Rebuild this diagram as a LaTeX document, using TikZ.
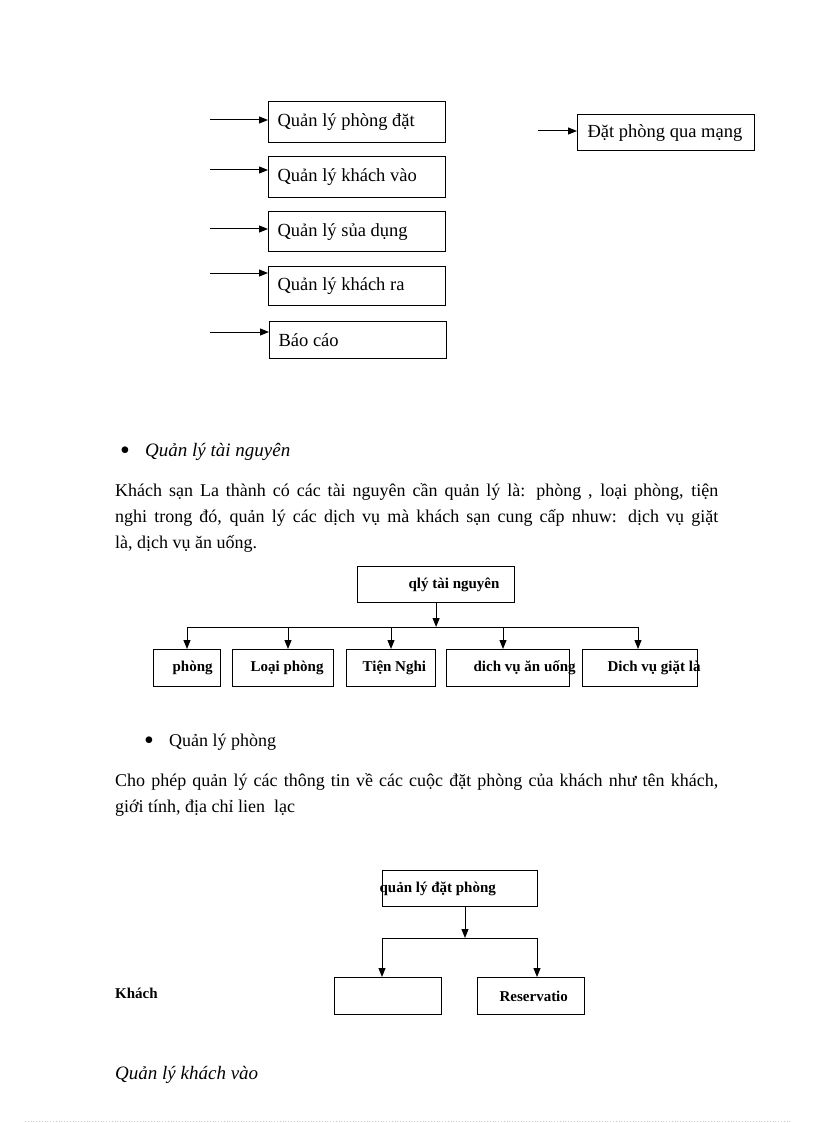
\documentclass[tikz,border=0pt]{standalone}
\usepackage{fontspec}
\setmainfont{Liberation Serif}
\usetikzlibrary{positioning}
\usetikzlibrary{arrows.meta}
\newcommand{\padtext}[3]{\makebox[#1pt][l]{\hspace*{#2pt}#3}}
\tikzset{
    box/.style = {rectangle, draw=black, line width=1.2pt, inner sep=0pt, anchor=north west, font=\fontsize{18.5}{20}\selectfont},
    boxb/.style = {rectangle, draw=black, line width=1.2pt, inner sep=0pt, anchor=north west, font=\fontsize{15}{17}\selectfont\bfseries},
    edgen/.style = {-{Triangle[length=9pt,width=7pt]}, line width=1pt},
    edgel/.style = {line width=1pt},
    txt/.style = {anchor=base west, inner sep=0pt, font=\fontsize{18}{20}\selectfont},
    dot/.style = {anchor=center, inner sep=0pt, font=\fontsize{28}{28}\selectfont},
    txti/.style = {txt, font=\fontsize{19}{21}\selectfont\itshape},
    txtb/.style = {txt, font=\fontsize{15}{17}\selectfont\bfseries}
}
\begin{document}
\begin{tikzpicture}[x=1pt,y=-1pt]
\useasboundingbox (0,0) rectangle (816,1123);
%
\node[box, minimum height=41] (pd) at (268,101) {\padtext{177}{9}{Quản lý phòng đặt}};
\node[box, minimum height=41] (kv) at (268,156) {\padtext{177}{9}{Quản lý khách vào}};
\node[box, minimum height=40] (sd) at (268,211) {\padtext{177}{9}{Quản lý sủa dụng}};
\node[box, minimum height=39] (kr) at (268,266) {\padtext{177}{9}{Quản lý khách ra}};
\node[box, minimum height=37] (bc) at (269,321) {\padtext{177}{9}{Báo cáo}};
\node[box, minimum height=36] (dm) at (577,114) {\padtext{177}{10}{Đặt phòng qua mạng}};
%
\coordinate (s1) at (210,120);
\coordinate (s2) at (210,170);
\coordinate (s3) at (210,229);
\coordinate (s4) at (210,273);
\coordinate (s5) at (210,332);
\coordinate (s6) at (538,131);
\draw[edgen] (s1) -- (s1 -| pd.west);
\draw[edgen] (s2) -- (s2 -| kv.west);
\draw[edgen] (s3) -- (s3 -| sd.west);
\draw[edgen] (s4) -- (s4 -| kr.west);
\draw[edgen] (s5) -- (s5 -| bc.west);
\draw[edgen] (s6) -- (s6 -| dm.west);
%
\node[dot] (u1) at (125,453) {•};
\node[txti] (h1) at (145,456) {Quản lý tài nguyên};
\node[txt] (p1) at (115,496) {\makebox[603pt][s]{Khách sạn La thành có các tài nguyên cần quản lý là: phòng , loại phòng, tiện}};
\node[txt] (p2) at (115,522) {\makebox[603pt][s]{nghi trong đó, quản lý các dịch vụ mà khách sạn cung cấp nhuw: dịch vụ giặt}};
\node[txt] (p3) at (115,548) {là, dịch vụ ăn uống.};
%
\node[boxb, minimum height=36] (tn) at (357,566) {\padtext{157}{51}{qlý tài nguyên}};
\node[boxb, minimum height=37] (c1) at (153,649) {\padtext{67}{19}{phòng}};
\node[boxb, minimum height=37] (c2) at (232,649) {\padtext{101}{18}{Loại phòng}};
\node[boxb, minimum height=37] (c3) at (346,649) {\padtext{89}{16}{Tiện Nghi}};
\node[boxb, minimum height=37] (c4) at (446,649) {\padtext{123}{27}{dich vụ ăn uống}};
\node[boxb, minimum height=37] (c5) at (582,649) {\padtext{115}{25}{Dich vụ giặt là}};
%
\foreach \x/\n in {187/c1,288/c2,391/c3,503/c4,638/c5}{
  \coordinate (d\n) at (\x,627);
  \draw[edgen] (d\n) -- (d\n |- \n.north);
}
\draw[edgel] (dc1) -- (dc5);
\draw[edgen] (tn.south) -- (tn.south |- dc1);
%
\node[dot] (u2) at (149,743) {•};
\node[txt] (h2) at (169,746) {Quản lý phòng};
\node[txt] (p4) at (115,786) {\makebox[603pt][s]{Cho phép quản lý các thông tin về các cuộc đặt phòng của khách như tên khách,}};
\node[txt] (p5) at (115,812) {giới tính, địa chỉ lien\ \ lạc};
%
\node[boxb, minimum height=36] (qd) at (382,870) {\padtext{155}{-3}{quản lý đặt phòng}};
\node[boxb, minimum height=37] (kh) at (334,977) {\padtext{107}{0}{}};
\node[boxb, minimum height=37] (rs) at (477,977) {\padtext{107}{22}{Reservatio}};
\coordinate (j) at (465,938);
\coordinate (jl) at (382,938);
\coordinate (jr) at (537,938);
\draw[edgen] (qd.south -| j) -- (j);
\draw[edgel] (jl) -- (jr);
\draw[edgen] (jl) -- (jl |- kh.north);
\draw[edgen] (jr) -- (jr |- rs.north);
\node[txtb] (kl) at (115,998) {Khách};
%
\node[txti] (h3) at (115,1079) {Quản lý khách vào};
\draw[gray!40, dotted, line width=0.8pt] (25,1121) -- (790,1121);
\end{tikzpicture}
\end{document}
